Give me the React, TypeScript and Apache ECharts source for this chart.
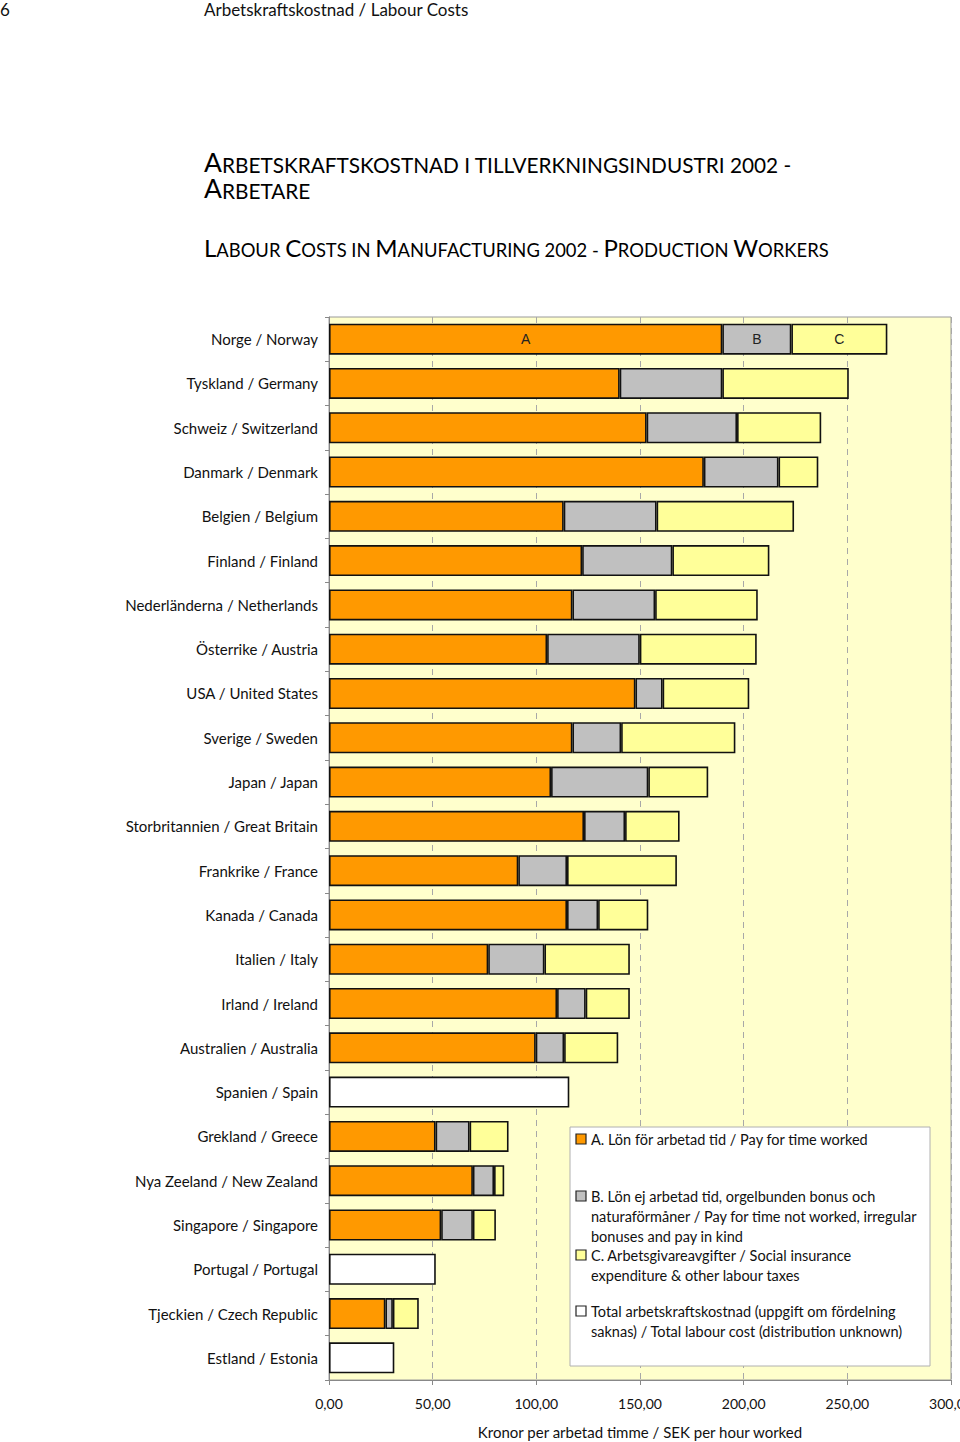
import React, { useEffect, useRef } from "react";
import * as echarts from "echarts";

const categories = [
  "Norge / Norway",
  "Tyskland / Germany",
  "Schweiz / Switzerland",
  "Danmark / Denmark",
  "Belgien / Belgium",
  "Finland / Finland",
  "Nederländerna / Netherlands",
  "Österrike / Austria",
  "USA / United States",
  "Sverige / Sweden",
  "Japan / Japan",
  "Storbritannien / Great Britain",
  "Frankrike / France",
  "Kanada / Canada",
  "Italien / Italy",
  "Irland / Ireland",
  "Australien / Australia",
  "Spanien / Spain",
  "Grekland / Greece",
  "Nya Zeeland / New Zealand",
  "Singapore / Singapore",
  "Portugal / Portugal",
  "Tjeckien / Czech Republic",
  "Estland / Estonia",
];

// A. Pay for time worked
const payWorked = [189.7, 140.2, 153.2, 180.8, 113.2, 122.1, 117.4, 105.2, 147.8, 117.4, 107.1, 123.0, 91.3, 114.8, 76.8, 110.0, 99.7, null, 51.4, 69.4, 54.1, null, 27.2, null];
// B. Pay for time not worked, irregular bonuses and pay in kind
const payNotWorked = [33.3, 49.5, 43.6, 36.0, 44.8, 43.5, 39.9, 44.7, 13.1, 23.5, 46.9, 19.8, 23.5, 15.0, 27.1, 13.8, 13.7, null, 16.4, 10.2, 15.3, null, 3.6, null];
// C. Social insurance expenditure & other labour taxes
const socialIns = [46.3, 61.0, 40.6, 19.2, 66.3, 46.8, 49.5, 56.4, 41.8, 55.1, 28.9, 26.3, 53.0, 24.2, 41.2, 21.3, 26.1, null, 18.8, 4.9, 11.1, null, 12.5, null];
// Total labour cost (distribution unknown)
const totalUnknown = [null, null, null, null, null, null, null, null, null, null, null, null, null, null, null, null, null, 115.9, null, null, null, 51.5, null, 31.5];

const segmentTags = ["A", "B", "C"];

const legendA = "A. Lön för arbetad tid / Pay for time worked";
const legendB = "B. Lön ej arbetad tid, orgelbunden bonus och\nnaturaförmåner / Pay for time not worked, irregular\nbonuses and pay in kind";
const legendC = "C. Arbetsgivareavgifter / Social insurance\nexpenditure & other labour taxes";
const legendT = "Total arbetskraftskostnad (uppgift om fördelning\nsaknas) / Total labour cost (distribution unknown)";

const FONT = "Lato, 'Open Sans', sans-serif";

export default function App() {
  const ref = useRef<HTMLDivElement>(null);
  useEffect(() => {
    document.body.style.margin = "0";
    if (!ref.current) return;
    const chart = echarts.init(ref.current, undefined, { renderer: "svg" });

    const barStyle = (color: string) => ({
      color,
      borderColor: "#111",
      borderWidth: 1.6,
    });

    const withTag = (arr: (number | null)[], tag: string) =>
      arr.map((v, i) =>
        i === 0
          ? {
              value: v,
              label: {
                show: true,
                position: "inside",
                formatter: tag,
                color: "#222",
                fontSize: 14,
                fontFamily: "'Liberation Sans', Arial, sans-serif",
              },
            }
          : v
      );

    const rich1 = {
      b: { fontSize: 26.5, fontFamily: FONT, color: "#111", verticalAlign: "bottom", lineHeight: 26 },
      s: { fontSize: 20.8, fontFamily: FONT, color: "#111", verticalAlign: "bottom", lineHeight: 26 },
    };
    const rich3 = {
      b: { fontSize: 24, fontFamily: FONT, color: "#111", verticalAlign: "bottom", lineHeight: 24 },
      s: { fontSize: 18.4, fontFamily: FONT, color: "#111", verticalAlign: "bottom", lineHeight: 24 },
    };

    const legendIcon = (y: number, color: string) => ({
      type: "rect",
      shape: { x: 576, y, width: 10, height: 10 },
      style: { fill: color, stroke: "#222", lineWidth: 1.2 },
    });
    const legendText = (y: number, text: string) => ({
      type: "text",
      x: 591,
      y,
      style: {
        text,
        fontSize: 14.5,
        fontFamily: FONT,
        fill: "#111",
        lineHeight: 20,
        textVerticalAlign: "top",
      },
    });

    chart.setOption({
      animation: false,
      backgroundColor: "#ffffff",
      grid: {
        left: 329,
        right: 9,
        top: 317,
        bottom: 62,
        outerBoundsMode: "none",
        containLabel: false,
        show: true,
        backgroundColor: "#FFFFCC",
        borderColor: "#9a9a9a",
        borderWidth: 1,
      },
      xAxis: {
        type: "value",
        min: 0,
        max: 300,
        interval: 50,
        name: "Kronor per arbetad timme / SEK per hour worked",
        nameLocation: "middle",
        nameGap: 44,
        nameTextStyle: { fontSize: 15, fontFamily: FONT, color: "#111" },
        axisLine: { show: true, lineStyle: { color: "#888", width: 1 } },
        axisTick: { show: true, length: 5, lineStyle: { color: "#888" } },
        axisLabel: {
          fontSize: 14,
          fontFamily: FONT,
          color: "#111",
          margin: 16,
          hideOverlap: false,
          formatter: (v: number) => v.toFixed(2).replace(".", ","),
        },
        splitLine: { show: true, lineStyle: { color: "#a8a8a8", type: [6, 5], width: 1 } },
      },
      yAxis: {
        type: "category",
        data: categories,
        inverse: true,
        axisLine: { show: true, lineStyle: { color: "#888" } },
        axisTick: { show: true, length: 4, lineStyle: { color: "#888" } },
        axisLabel: { fontSize: 15, fontFamily: FONT, color: "#111", margin: 11 },
      },
      series: [
        {
          name: "A",
          type: "bar",
          stack: "cost",
          barWidth: 31,
          data: withTag(payWorked, segmentTags[0]),
          itemStyle: barStyle("#FF9900"),
        },
        {
          name: "B",
          type: "bar",
          stack: "cost",
          barWidth: 31,
          data: withTag(payNotWorked, segmentTags[1]),
          itemStyle: barStyle("#C0C0C0"),
        },
        {
          name: "C",
          type: "bar",
          stack: "cost",
          barWidth: 31,
          data: withTag(socialIns, segmentTags[2]),
          itemStyle: barStyle("#FFFF99"),
        },
        {
          name: "Total",
          type: "bar",
          stack: "cost",
          barWidth: 31,
          data: totalUnknown,
          itemStyle: barStyle("#FFFFFF"),
        },
      ],
      graphic: [
        {
          type: "text",
          x: 0,
          y: 1,
          style: { text: "6", fontSize: 17, fontFamily: FONT, fill: "#111", textVerticalAlign: "top" },
        },
        {
          type: "text",
          x: 204,
          y: 1,
          style: {
            text: "Arbetskraftskostnad / Labour Costs",
            fontSize: 17,
            fontFamily: FONT,
            fill: "#111",
            textVerticalAlign: "top",
          },
        },
        {
          type: "text",
          x: 204,
          y: 149,
          style: {
            text: "{b|A}{s|RBETSKRAFTSKOSTNAD I TILLVERKNINGSINDUSTRI 2002 -}\n{b|A}{s|RBETARE}",
            rich: rich1,
            textVerticalAlign: "top",
          },
        },
        {
          type: "text",
          x: 204,
          y: 235,
          style: {
            text: "{b|L}{s|ABOUR }{b|C}{s|OSTS IN }{b|M}{s|ANUFACTURING 2002 - }{b|P}{s|RODUCTION }{b|W}{s|ORKERS}",
            rich: rich3,
            textVerticalAlign: "top",
          },
        },
        {
          type: "rect",
          shape: { x: 570, y: 1127, width: 360, height: 239 },
          style: { fill: "#ffffff", stroke: "#b0b0b0", lineWidth: 1 },
          z: 100,
        },
        { ...legendIcon(1134, "#FF9900"), z: 101 },
        { ...legendText(1129, legendA), z: 101 },
        { ...legendIcon(1191, "#C0C0C0"), z: 101 },
        { ...legendText(1186, legendB), z: 101 },
        { ...legendIcon(1250, "#FFFF99"), z: 101 },
        { ...legendText(1245, legendC), z: 101 },
        { ...legendIcon(1306, "#FFFFFF"), z: 101 },
        { ...legendText(1301, legendT), z: 101 },
      ],
    });
    return () => chart.dispose();
  }, []);
  return <div ref={ref} style={{ width: 960, height: 1442 }} />;
}
